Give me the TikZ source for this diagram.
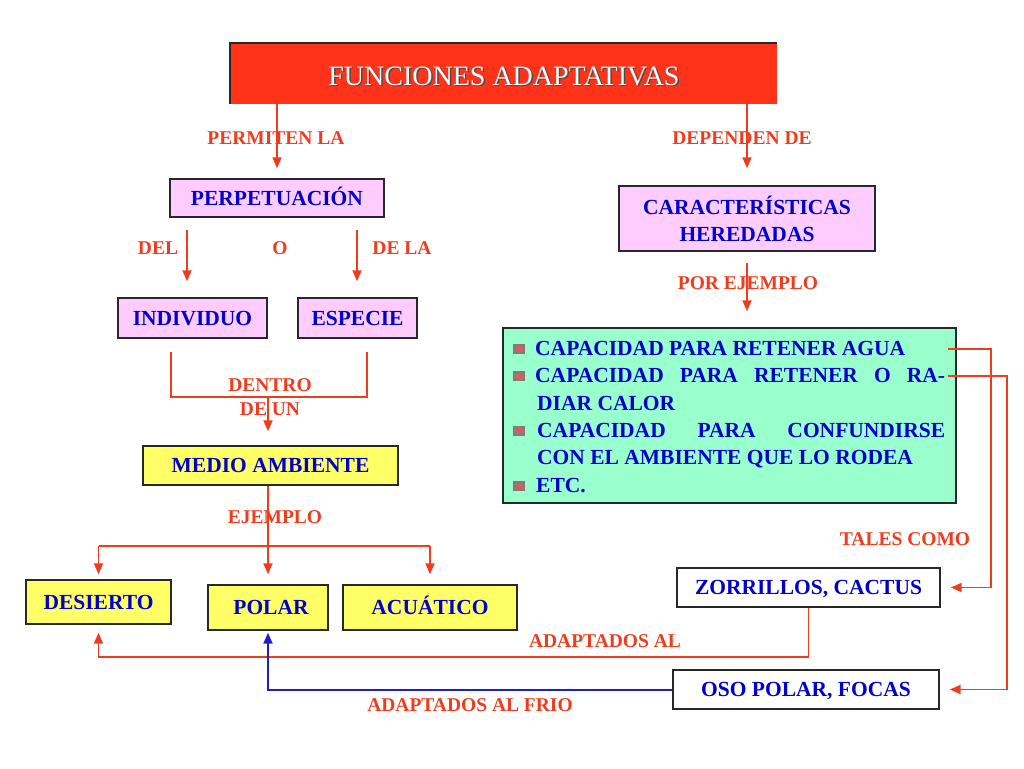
\documentclass[tikz,border=0pt]{standalone}
\usepackage{fontspec}
\setmainfont{Liberation Serif}
\usetikzlibrary{arrows.meta,calc}
\definecolor{lred}{RGB}{240,60,30}
\definecolor{tred}{RGB}{255,51,25}
\definecolor{tblue}{RGB}{0,0,204}
\definecolor{lblue}{RGB}{30,30,200}
\definecolor{pinkf}{RGB}{255,204,255}
\definecolor{yelf}{RGB}{255,255,102}
\definecolor{mintf}{RGB}{153,255,204}
\definecolor{bord}{RGB}{40,40,40}
\definecolor{bulred}{RGB}{215,90,105}
\definecolor{bulgray}{RGB}{120,130,110}
\begin{document}
\begin{tikzpicture}[x=1pt,y=-1pt,
  box/.style={draw=bord,line width=1.4pt,inner sep=0pt,text=tblue,font=\fontsize{21.5}{27}\selectfont\bfseries,align=center},
  onel/.style={text height=14.2pt,text depth=0pt},
  pinkbox/.style={box,fill=pinkf},
  yelbox/.style={box,fill=yelf},
  whitebox/.style={box,fill=white},
  lbl/.style={text=lred,font=\fontsize{19.5}{24}\selectfont\bfseries,inner sep=0pt,text height=12.9pt,text depth=0pt},
  arr/.style={draw=lred,line width=1.8pt,-{Triangle[length=11pt,width=9pt]}},
  ln/.style={draw=lred,line width=1.8pt},
  barr/.style={draw=lblue,line width=2pt,-{Triangle[length=11pt,width=9pt]}},
  gtxt/.style={anchor=base west,inner sep=0pt,text=tblue,font=\fontsize{21.5}{27}\selectfont\bfseries},
  bul/.style={fill=bulred,draw=bulgray,line width=1.2pt,minimum width=10pt,minimum height=8pt,inner sep=0pt}
]
\useasboundingbox[fill=white] (0,0) rectangle (1024,768);

% title
\node[fill=tred,minimum width=547pt,minimum height=61pt,inner sep=0pt] (title) at (503.5,73.5) {};
\draw[bord,line width=1.6pt] (title.south west) -- (title.north west) -- (title.north east);
\node[text=black!70,font=\fontsize{28}{30}\selectfont,inner sep=0pt,text height=18.5pt,text depth=0pt] (titlesh) at (505.5,77.5) {FUNCIONES ADAPTATIVAS};
\node[text=white,font=\fontsize{28}{30}\selectfont,inner sep=0pt,text height=18.5pt,text depth=0pt] (titletxt) at (504,76) {FUNCIONES ADAPTATIVAS};

% boxes
\node[pinkbox,onel,minimum width=214pt,minimum height=38pt] (perp) at (277,198) {PERPETUACIÓN};
\node[pinkbox,minimum width=256pt,minimum height=65pt] (car) at (747,218.5) {CARACTERÍSTICAS\\HEREDADAS};
\node[pinkbox,onel,minimum width=149pt,minimum height=40pt] (ind) at (192.5,318) {INDIVIDUO};
\node[pinkbox,onel,minimum width=119pt,minimum height=40pt] (esp) at (357.5,318) {ESPECIE};
\node[yelbox,onel,minimum width=255pt,minimum height=39pt] (medio) at (270.5,465.5) {MEDIO AMBIENTE};
\node[yelbox,onel,minimum width=145pt,minimum height=44pt] (des) at (98.5,602) {DESIERTO};
\node[yelbox,onel,minimum width=120pt,minimum height=45pt] (pol) at (268,607.5) {\hspace*{6pt}POLAR};
\node[yelbox,onel,minimum width=174pt,minimum height=45pt] (acu) at (430,607.5) {ACUÁTICO};
\node[box,fill=mintf,minimum width=453pt,minimum height=175pt] (green) at (729.5,415.5) {};
\node[whitebox,onel,minimum width=263pt,minimum height=39pt] (zorr) at (808.5,587.5) {ZORRILLOS, CACTUS};
\node[whitebox,onel,minimum width=266pt,minimum height=39pt] (oso) at (806,689.5) {OSO POLAR, FOCAS};

% green box content
\node[gtxt] (t1) at (535,355) {CAPACIDAD PARA RETENER AGUA};
\node[gtxt] (t2) at (535,382) {\makebox[410pt][s]{CAPACIDAD PARA RETENER O RA-}};
\node[gtxt] (t3) at (537,410) {DIAR CALOR};
\node[gtxt] (t4) at (537,437) {\makebox[408pt][s]{CAPACIDAD PARA CONFUNDIRSE}};
\node[gtxt] (t5) at (537,464) {CON EL AMBIENTE QUE LO RODEA};
\node[gtxt] (t6) at (536,492) {ETC.};
\node[bul] (b1) at (519,349) {};
\node[bul] (b2) at (519,376) {};
\node[bul] (b3) at (519,431) {};
\node[bul] (b4) at (519,486) {};

% labels
\node[lbl] (lperm) at (276,138) {PERMITEN LA};
\node[lbl] (ldep) at (742,138) {DEPENDEN DE};
\node[lbl] (ldel) at (158,248) {DEL};
\node[lbl] (lo) at (280,248) {O};
\node[lbl] (ldela) at (402,248) {DE LA};
\node[lbl] (ldentro) at (270,385) {DENTRO};
\node[lbl] (ldeun) at (270,409) {DE UN};
\node[lbl] (lej) at (275,517) {EJEMPLO};
\node[lbl] (lpor) at (748,283) {POR EJEMPLO};
\node[lbl] (ltales) at (905,539) {TALES COMO};
\node[lbl] (ladap) at (605,641) {ADAPTADOS AL};
\node[lbl] (lfrio) at (470,705) {ADAPTADOS AL FRIO};

% coordinates
\coordinate (d1) at (187,230);
\coordinate (d2) at (357,230);
\coordinate (k1) at (171,352);
\coordinate (k2) at (367,352);
\coordinate (k3) at (268,397);
\coordinate (e0) at (98,546);
\coordinate (g1) at (948,349);
\coordinate (g2) at (948,376);
\coordinate (r1) at (991,0);
\coordinate (r2) at (1007,0);
\coordinate (a0) at (0,657);

% connectors
\draw[arr,shorten >=10pt] (title.south -| perp.north) -- (perp.north);
\draw[arr,shorten >=17pt] (title.south -| car.north) -- (car.north);
\draw[arr,shorten >=16pt] (d1) -- (ind.north -| d1);
\draw[arr,shorten >=16pt] (d2) -- (esp.north -| d2);
\draw[ln] (k1) |- (k2 |- k3) -- (k2);
\draw[arr,shorten >=14pt] (k3) -- (medio.north -| k3);
\draw[arr,shorten >=10pt] (medio.south -| pol.north) -- (pol.north);
\draw[ln] (des.north |- e0) -- (acu.north |- e0);
\draw[arr,shorten >=5pt] (des.north |- e0) -- (des.north);
\draw[arr,shorten >=10pt] (acu.north |- e0) -- (acu.north);
\draw[arr,shorten <=11pt,shorten >=16pt] (car.south) -- (green.north -| car.south);
\draw[arr,shorten >=10pt] (g1) -- (g1 -| r1) |- (zorr.east);
\draw[arr,shorten >=10pt] (g2) -- (g2 -| r2) |- (oso.east);
\draw[arr,shorten >=8pt] (zorr.south) -- (zorr.south |- a0) -- (des.south |- a0) -- (des.south);
\draw[barr,shorten >=2pt] (oso.west) -- (pol.south |- oso.west) -- (pol.south);
\end{tikzpicture}
\end{document}
